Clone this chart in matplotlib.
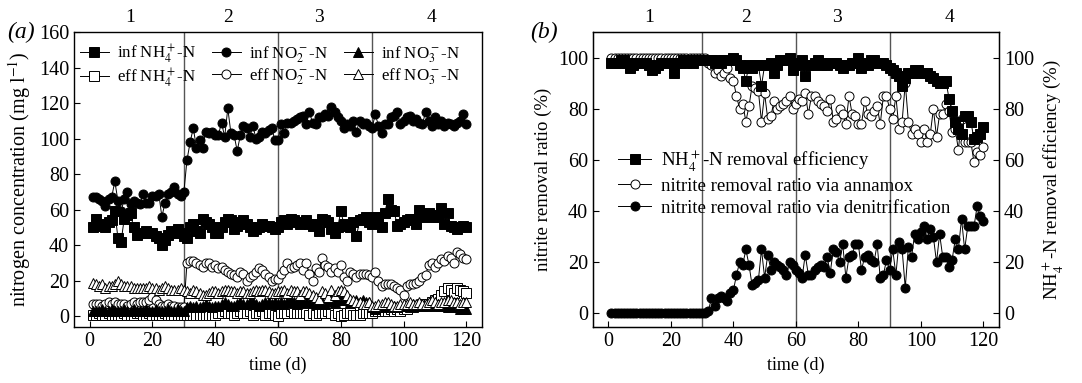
import matplotlib
matplotlib.use("Agg")
import matplotlib.pyplot as plt
import numpy as np

plt.rcParams["font.family"] = ["Liberation Serif", "DejaVu Serif"]
plt.rcParams["mathtext.fontset"] = "stix"
plt.rcParams["font.size"] = 12

days = np.arange(1, 121)

# ---- panel (a): nitrogen concentrations (mg/l)
inf_nh4 = [50, 55, 52, 51, 50, 53, 54, 59, 44, 42, 55, 57, 58, 50, 46, 47, 47, 48, 47, 47,
           45, 44, 40, 43, 46, 48, 47, 49, 47, 45,
           44, 50, 52, 48, 47, 55, 53, 52, 50, 47, 47, 50, 53, 55, 54, 49, 51, 53, 54, 52,
           50, 48, 49, 50, 52, 51, 51, 50, 49, 50,
           53, 54, 52, 55, 54, 53, 52, 53, 54, 52, 51, 52, 48, 55, 54, 53, 49, 47, 50, 59,
           52, 51, 50, 53, 45, 54, 55, 56, 53, 52,
           56, 56, 50, 58, 66, 60, 59, 51, 52, 53, 54, 55, 55, 52, 60, 56, 57, 58, 56, 57,
           56, 61, 52, 58, 51, 50, 49, 50, 51, 50]
inf_no2 = [67, 67, 66, 65, 62, 66, 67, 76, 65, 59, 66, 70, 63, 65, 64, 63, 69, 64, 64, 68,
           68, 69, 56, 64, 69, 70, 73, 69, 68, 70,
           88, 98, 106, 95, 99, 95, 104, 103, 104, 102, 102, 109, 101, 117, 103, 102, 93, 102, 107, 106,
           101, 107, 100, 101, 104, 103, 105, 106, 99, 99,
           108, 103, 109, 109, 110, 111, 112, 113, 108, 115, 109, 108, 112, 112, 114, 113, 118, 115, 112, 110,
           106, 108, 107, 110, 104, 110, 108, 109, 107, 106,
           114, 107, 103, 108, 108, 112, 113, 115, 108, 110, 112, 113, 110, 111, 109, 108, 115, 110, 107, 112,
           108, 110, 107, 109, 108, 107, 109, 110, 114, 108]
inf_no3 = [3, 3, 3, 4, 3, 3, 4, 3, 3, 3, 4, 3, 3, 4, 3, 3, 3, 4, 3, 3,
           4, 3, 3, 3, 4, 3, 3, 4, 3, 3,
           5, 6, 5, 6, 5, 6, 7, 6, 5, 6, 6, 7, 8, 7, 6, 6, 7, 8, 7, 7,
           8, 8, 7, 6, 7, 8, 8, 7, 8, 7,
           8, 7, 8, 9, 8, 7, 8, 9, 8, 9, 8, 7, 9, 8, 7, 9, 10, 8, 9, 9,
           10, 9, 8, 8, 9, 8, 9, 8, 8, 5,
           4, 5, 6, 5, 6, 5, 6, 5, 6, 6, 6, 6, 7, 6, 7, 6, 6, 7, 7, 6,
           7, 6, 6, 5, 5, 5, 5, 4, 4, 4]
eff_nh4 = [1, 1, 2, 1, 1, 2, 1, 1, 1, 1, 2, 1, 1, 1, 2, 2, 1, 1, 2, 1,
           1, 1, 1, 2, 1, 1, 1, 1, 1, 1,
           1, 1, 1, 1, 1, 1, 1, 1, 1, 1, 2, 2, 3, 2, 2, 1, 2, 3, 2, 2,
           3, 1, 2, 2, 3, 1, 2, 2, 1, 0,
           2, 2, 2, 3, 2, 2, 2, 2, 2, 1, 2, 1, 2, 2, 2, 3, 2, 1, 2, 0,
           1, 2, 2, 1, 1, 1, 2, 2, 2, 2,
           3, 3, 3, 3, 3, 4, 3, 4, 3, 4, 4, 5, 5, 6, 6, 7, 7, 7, 8, 9,
           10, 12, 14, 16, 15, 13, 16, 15, 14, 13]
eff_no2 = [7, 7, 7, 6, 7, 8, 7, 8, 7, 7, 7, 6, 7, 8, 7, 8, 8, 8, 9, 11,
           9, 7, 6, 6, 7, 6, 6, 5, 5, 5,
           30, 31, 31, 30, 29, 28, 30, 30, 28, 29, 27, 28, 26, 25, 24, 23, 22, 25, 24, 20,
           22, 23, 25, 27, 26, 24, 22, 20, 21, 21,
           24, 26, 30, 27, 28, 29, 30, 26, 30, 24, 20, 27, 25, 33, 29, 28, 25, 27, 25, 29,
           22, 20, 25, 24, 22, 24, 24, 24, 23, 22,
           25, 20, 17, 18, 18, 18, 17, 16, 15, 12, 17, 18, 18, 19, 20, 22, 23, 29, 30, 28,
           30, 32, 31, 34, 33, 30, 36, 35, 33, 32]
eff_no3 = [19, 18, 17, 18, 16, 17, 17, 18, 20, 18, 17, 17, 17, 16, 16, 16, 16, 16, 17, 16,
           16, 15, 16, 17, 16, 15, 15, 15, 16, 15,
           14, 13, 15, 14, 13, 12, 12, 13, 14, 14, 13, 14, 15, 15, 14, 14, 13, 14, 14, 13,
           13, 14, 15, 14, 15, 15, 14, 13, 13, 14,
           14, 15, 13, 15, 14, 14, 12, 14, 14, 13, 12, 11, 10, 14, 13, 11, 15, 12, 14, 15,
           14, 12, 10, 9, 8, 8, 7, 7, 8, 6,
           6, 7, 7, 8, 8, 7, 6, 6, 7, 7, 7, 8, 7, 7, 8, 7, 7, 8, 9, 8,
           7, 8, 8, 9, 9, 8, 8, 7, 8, 8]

# ---- panel (b): removal ratios (%)
nh4_eff = [98, 98, 98, 99, 99, 98, 96, 97, 98, 98, 98, 98, 97, 95, 96, 97, 98, 98, 98, 98,
           94, 98, 98, 99, 98, 99, 98, 99, 99, 99,
           99, 99, 99, 98, 99, 98, 99, 99, 99, 100, 99, 97, 96, 91, 97, 96, 97, 97, 89, 97,
           97, 98, 94, 97, 99, 99, 99, 100, 95, 98,
           97, 99, 93, 97, 97, 98, 99, 97, 98, 97, 98, 98, 98, 97, 96, 97, 97, 98, 98, 100,
           96, 98, 97, 99, 99, 98, 98, 98, 97, 96,
           95, 94, 93, 89, 92, 94, 94, 95, 95, 94, 94, 94, 93, 92, 91, 90, 90, 91, 84, 79,
           75, 72, 70, 77, 77, 75, 68, 69, 70, 73]
anammox = [100] * 31 + [
           98, 97, 94, 95, 93, 94, 96, 92, 91, 85, 80, 82, 75, 81, 89, 88, 87, 75, 86,
           76, 77, 83, 80, 81, 82, 83, 85, 80, 82,
           84, 83, 86, 78, 85, 85, 83, 82, 81, 79, 84, 75, 76, 80, 78, 74, 85, 78, 77, 74,
           74, 83, 78, 77, 79, 81, 74, 85, 85, 80,
           76, 85, 72, 75, 90, 75, 70, 72, 70, 67, 72, 67, 70, 80, 69, 78, 78, 82, 79, 71,
           72, 64, 76, 67, 67, 67, 59, 63, 62, 65]
denitr = [0] * 31 + [
          1, 6, 3, 6, 7, 6, 5, 8, 9, 15, 20, 19, 25, 19, 11, 12, 13, 25, 14,
          23, 17, 20, 19, 18, 17, 15, 20, 19, 17,
          16, 14, 23, 15, 15, 17, 18, 19, 18, 22, 16, 25, 24, 20, 27, 14, 22, 23, 27, 27,
          17, 22, 23, 21, 20, 27, 14, 15, 21, 17,
          25, 15, 28, 25, 10, 26, 22, 31, 29, 32, 34, 29, 33, 30, 20, 31, 22, 22, 18, 21,
          29, 25, 37, 25, 34, 34, 34, 42, 38, 36]

stage_bounds = [30, 60, 90]
stage_names = ["1", "2", "3", "4"]
stage_pos = [13, 44, 73, 109]

fig = plt.figure(figsize=(10.82, 3.83), dpi=100)
ax1 = fig.add_axes([0.0684, 0.1462, 0.3771, 0.7702])
ax2 = fig.add_axes([0.5478, 0.1462, 0.3755, 0.7702])

line_kw = dict(color="black", lw=0.7, markersize=6.5, markeredgewidth=0.7)
filled = dict(markerfacecolor="black", markeredgecolor="black")
hollow = dict(markerfacecolor="white", markeredgecolor="black")
tick_fs = 14.5

# panel (a)
ax1.plot(days, inf_nh4, marker="s", label="inf NH$_4^+$-N", **line_kw, **filled)
ax1.plot(days, eff_nh4, marker="s", label="eff NH$_4^+$-N", **line_kw, **hollow)
ax1.plot(days, inf_no2, marker="o", label="inf NO$_2^-$-N", **line_kw, **filled)
ax1.plot(days, eff_no2, marker="o", label="eff NO$_2^-$-N", **line_kw, **hollow)
ax1.plot(days, inf_no3, marker="^", label="inf NO$_3^-$-N", **line_kw, **filled)
ax1.plot(days, eff_no3, marker="^", label="eff NO$_3^-$-N", **line_kw, **hollow)
ax1.set_xlim(-5, 125)
ax1.set_ylim(-6, 160)
ax1.set_xticks(range(0, 121, 20))
ax1.set_yticks(range(0, 161, 20))
ax1.set_xlabel("time (d)", fontsize=13)
ax1.set_ylabel("nitrogen concentration (mg l$^{-1}$)", fontsize=14.5, labelpad=4)
ax1.legend(ncol=3, loc="upper left", bbox_to_anchor=(-0.01, 1.0), frameon=False,
           handlelength=1.7, handletextpad=0.5, columnspacing=0.9, labelspacing=0.05,
           borderaxespad=0.2, fontsize=12.2)
ax1.text(-0.165, 1.0, "(a)", transform=ax1.transAxes, fontsize=17, va="center", ha="left",
         fontstyle="italic")

# panel (b)
ax2r = ax2.twinx()
ax2.set_xlim(-5, 125)
ax2.set_ylim(-5.3, 110)
ax2r.set_ylim(-5.3, 110)
h1, = ax2r.plot(days, nh4_eff, marker="s", **line_kw, **filled)
h2, = ax2.plot(days, anammox, marker="o", **line_kw, **hollow)
h3, = ax2.plot(days, denitr, marker="o", **line_kw, **filled)
ax2.set_xticks(range(0, 121, 20))
ax2.set_yticks(range(0, 101, 20))
ax2r.set_yticks(range(0, 101, 20))
ax2.set_xlabel("time (d)", fontsize=13)
ax2.set_ylabel("nitrite removal ratio (%)", fontsize=13.5)
ax2r.set_ylabel("NH$_4^+$-N removal efficiency (%)", fontsize=13.5, labelpad=4)
ax2.legend([h1, h2, h3], ["NH$_4^+$-N removal efficiency",
                          "nitrite removal ratio via annamox",
                          "nitrite removal ratio via denitrification"],
           loc="center left", bbox_to_anchor=(0.02, 0.49), frameon=False,
           handlelength=1.8, handletextpad=0.5, labelspacing=0.25, fontsize=13.5)
ax2.text(-0.155, 1.0, "(b)", transform=ax2.transAxes, fontsize=17, va="center", ha="left",
         fontstyle="italic")

for ax in (ax1, ax2):
    for b in stage_bounds:
        ax.axvline(b, color="#555555", lw=1.0, zorder=0)
    for name, pos in zip(stage_names, stage_pos):
        ax.text(pos, 1.05, name, transform=ax.get_xaxis_transform(), ha="center",
                va="center", fontsize=14)
    ax.tick_params(direction="in", length=4, labelsize=tick_fs)
    for s in ax.spines.values():
        s.set_linewidth(1.0)
ax2r.tick_params(direction="in", length=4, labelsize=tick_fs)

fig.savefig("out.png", dpi=100)
